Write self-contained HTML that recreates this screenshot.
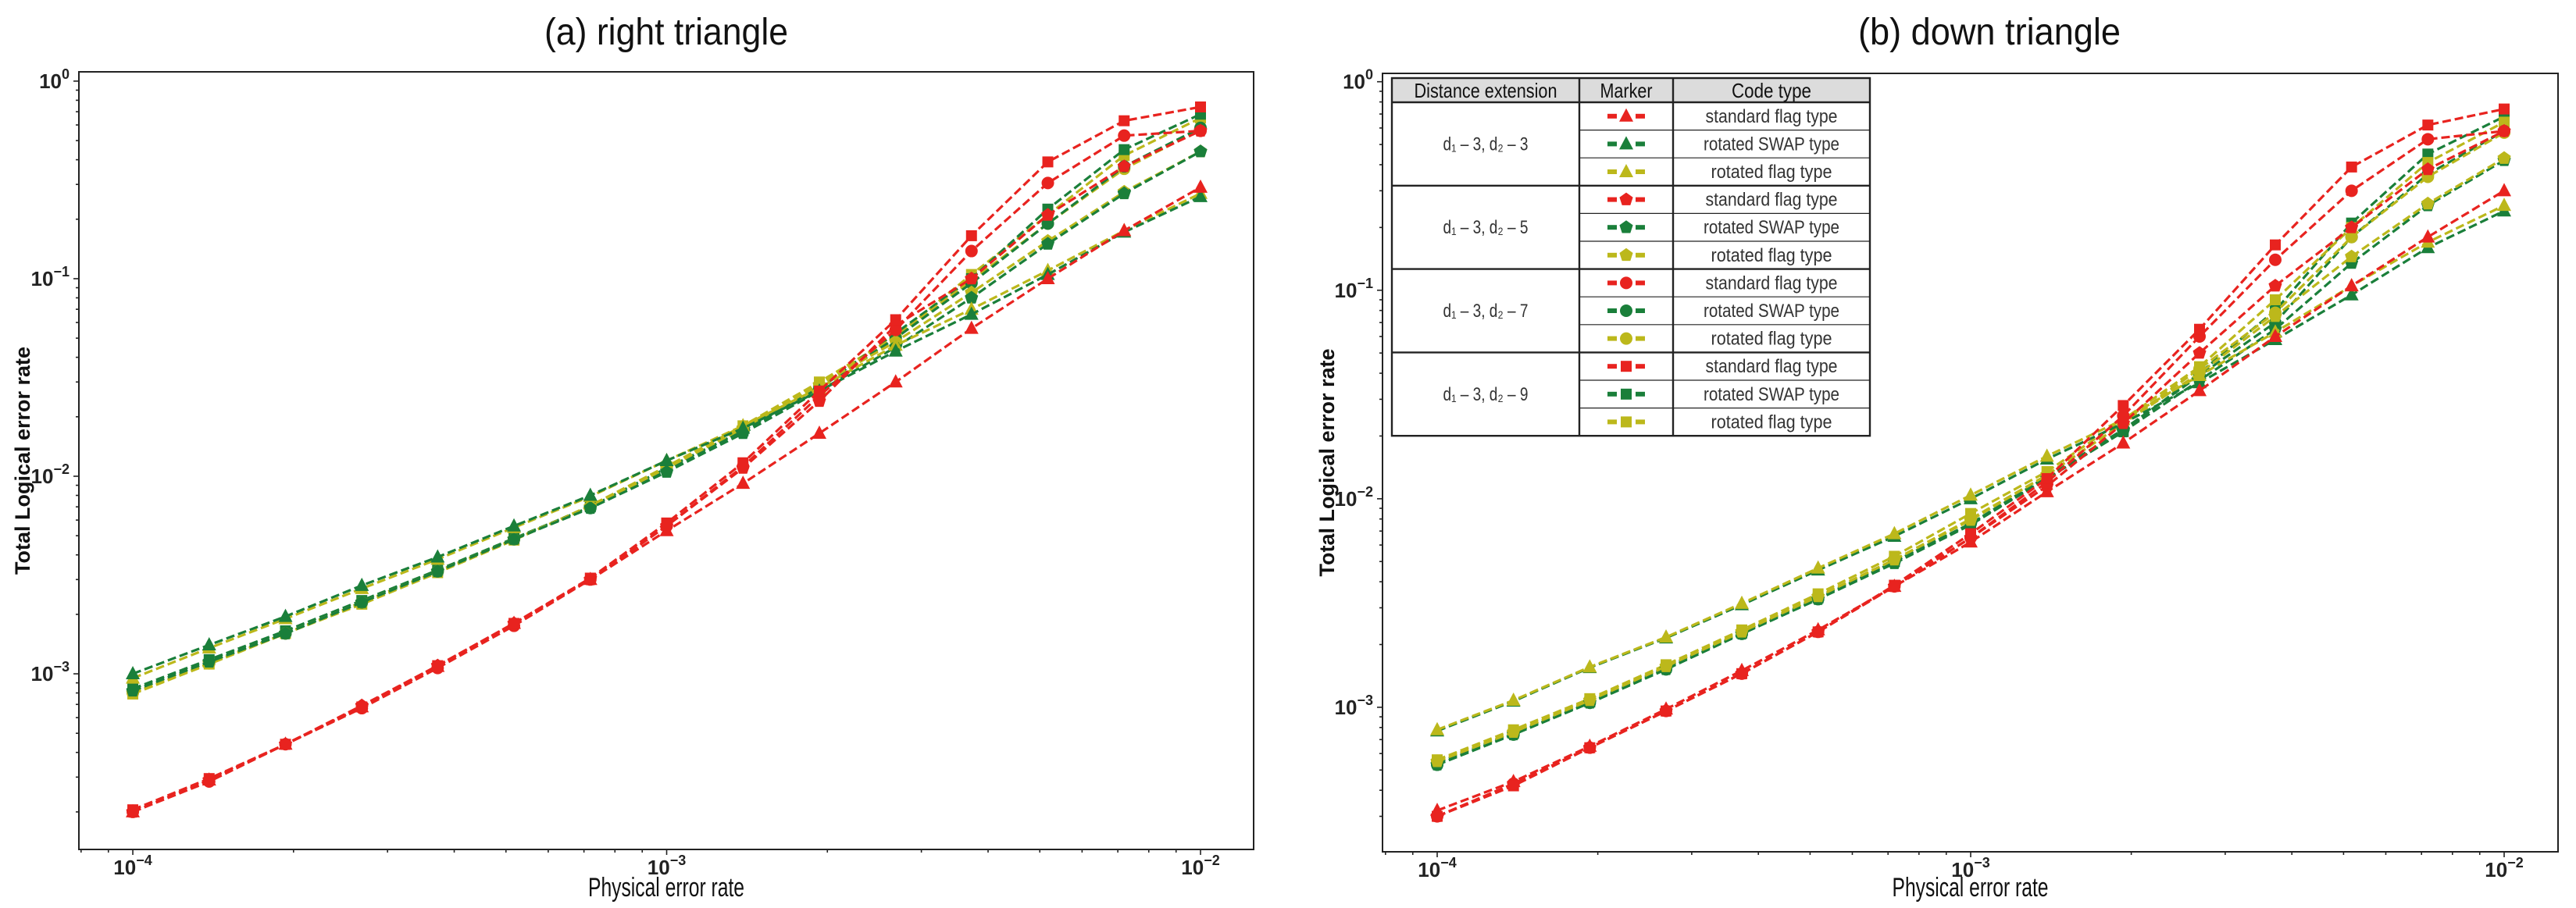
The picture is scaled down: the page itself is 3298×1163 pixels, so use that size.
<!DOCTYPE html>
<html><head><meta charset="utf-8"><style>
html,body{margin:0;padding:0;background:#fff;}
svg{display:block;}
text{font-family:"Liberation Sans Narrow","Liberation Sans",sans-serif;}
</style></head><body>
<svg id="fig" width="3298" height="1163" viewBox="0 0 3298 1163" xmlns="http://www.w3.org/2000/svg">
<g id="panelA"></g>
<g id="panelB"></g>
<g id="legend"></g>
</svg>
<script>
// ---- data ----
const pExponents = [-4,-3.857,-3.714,-3.571,-3.429,-3.286,-3.143,-3,-2.857,-2.714,-2.571,-2.429,-2.286,-2.143,-2];
const yTickExps = [0,-1,-2,-3];
const xTickExps = [-4,-3,-2];
const codeTypes = ["standard flag type","rotated SWAP type","rotated flag type"];
const distances = ["d3","d5","d7","d9"];
// panel (a) right triangle
const aStdD3 = [2.0e-4,2.9e-4,4.4e-4,6.8e-4,1.09e-3,1.8e-3,3.0e-3,5.3e-3,9.2e-3,1.65e-2,3.0e-2,5.6e-2,1.0e-1,1.75e-1,2.9e-1];
const aSwapD3 = [1.0e-3,1.4e-3,1.95e-3,2.8e-3,3.9e-3,5.6e-3,8.0e-3,1.2e-2,1.75e-2,2.7e-2,4.3e-2,6.6e-2,1.05e-1,1.72e-1,2.6e-1];
const aRotD3 = [9.5e-4,1.35e-3,1.9e-3,2.7e-3,3.8e-3,5.5e-3,7.9e-3,1.2e-2,1.8e-2,2.8e-2,4.6e-2,7.0e-2,1.1e-1,1.75e-1,2.7e-1];
const aStdD5 = [2.0e-4,2.9e-4,4.4e-4,6.9e-4,1.1e-3,1.8e-3,3.0e-3,5.6e-3,1.1e-2,2.4e-2,5.8e-2,1.0e-1,2.1e-1,3.7e-1,5.6e-1];
const aSwapD5 = [8.2e-4,1.15e-3,1.6e-3,2.3e-3,3.3e-3,4.8e-3,6.9e-3,1.05e-2,1.65e-2,2.7e-2,4.5e-2,8.0e-2,1.5e-1,2.7e-1,4.4e-1];
const aRotD5 = [8.0e-4,1.13e-3,1.6e-3,2.3e-3,3.3e-3,4.8e-3,7.0e-3,1.1e-2,1.75e-2,2.9e-2,4.8e-2,8.5e-2,1.55e-1,2.75e-1,4.4e-1];
const aStdD7 = [2.0e-4,2.85e-4,4.4e-4,6.7e-4,1.07e-3,1.75e-3,3.0e-3,5.6e-3,1.12e-2,2.55e-2,5.5e-2,1.38e-1,3.05e-1,5.3e-1,5.6e-1];
const aSwapD7 = [8.2e-4,1.15e-3,1.6e-3,2.3e-3,3.3e-3,4.8e-3,6.9e-3,1.08e-2,1.7e-2,2.8e-2,5.0e-2,9.5e-2,1.9e-1,3.7e-1,5.8e-1];
const aRotD7 = [8.0e-4,1.13e-3,1.6e-3,2.3e-3,3.3e-3,4.8e-3,7.0e-3,1.1e-2,1.75e-2,2.9e-2,5.1e-2,9.8e-2,1.9e-1,3.6e-1,5.7e-1];
const aStdD9 = [2.05e-4,2.95e-4,4.4e-4,6.8e-4,1.1e-3,1.8e-3,3.05e-3,5.8e-3,1.17e-2,2.7e-2,6.2e-2,1.65e-1,3.9e-1,6.3e-1,7.4e-1];
const aSwapD9 = [8.4e-4,1.18e-3,1.65e-3,2.35e-3,3.35e-3,4.85e-3,7.0e-3,1.1e-2,1.7e-2,2.8e-2,5.3e-2,1.0e-1,2.25e-1,4.5e-1,6.8e-1];
const aRotD9 = [7.9e-4,1.12e-3,1.6e-3,2.25e-3,3.25e-3,4.75e-3,7.1e-3,1.12e-2,1.8e-2,3.0e-2,5.1e-2,1.05e-1,2.1e-1,4.2e-1,6.5e-1];
// panel (b) down triangle
const bStdD3 = [3.2e-4,4.4e-4,6.5e-4,9.8e-4,1.5e-3,2.35e-3,3.8e-3,6.2e-3,1.08e-2,1.85e-2,3.3e-2,6.0e-2,1.05e-1,1.8e-1,3.0e-1];
const bSwapD3 = [7.7e-4,1.07e-3,1.55e-3,2.15e-3,3.1e-3,4.55e-3,6.6e-3,1.0e-2,1.55e-2,2.3e-2,3.6e-2,5.8e-2,9.5e-2,1.6e-1,2.4e-1];
const bRotD3 = [7.8e-4,1.08e-3,1.56e-3,2.17e-3,3.15e-3,4.65e-3,6.8e-3,1.04e-2,1.6e-2,2.4e-2,3.9e-2,6.3e-2,1.05e-1,1.7e-1,2.55e-1];
const bStdD5 = [3.0e-4,4.3e-4,6.4e-4,9.6e-4,1.45e-3,2.3e-3,3.8e-3,6.5e-3,1.15e-2,2.3e-2,5.0e-2,1.05e-1,2.0e-1,3.8e-1,5.8e-1];
const bSwapD5 = [5.3e-4,7.4e-4,1.05e-3,1.52e-3,2.25e-3,3.3e-3,4.9e-3,7.5e-3,1.25e-2,2.1e-2,3.7e-2,6.5e-2,1.35e-1,2.55e-1,4.2e-1];
const bRotD5 = [5.5e-4,7.6e-4,1.08e-3,1.57e-3,2.3e-3,3.4e-3,5.1e-3,7.9e-3,1.3e-2,2.3e-2,4.0e-2,7.5e-2,1.45e-1,2.6e-1,4.3e-1];
const bStdD7 = [3.0e-4,4.3e-4,6.4e-4,9.6e-4,1.45e-3,2.3e-3,3.8e-3,6.5e-3,1.2e-2,2.5e-2,6.0e-2,1.4e-1,3.0e-1,5.3e-1,5.8e-1];
const bSwapD7 = [5.3e-4,7.4e-4,1.05e-3,1.52e-3,2.25e-3,3.3e-3,5.0e-3,7.6e-3,1.28e-2,2.15e-2,3.9e-2,7.0e-2,1.8e-1,3.6e-1,5.8e-1];
const bRotD7 = [5.5e-4,7.6e-4,1.08e-3,1.57e-3,2.3e-3,3.4e-3,5.1e-3,8.0e-3,1.3e-2,2.3e-2,4.2e-2,7.8e-2,1.8e-1,3.5e-1,5.7e-1];
const bStdD9 = [3.0e-4,4.2e-4,6.4e-4,9.6e-4,1.45e-3,2.3e-3,3.85e-3,6.8e-3,1.25e-2,2.8e-2,6.5e-2,1.65e-1,3.9e-1,6.2e-1,7.4e-1];
const bSwapD9 = [5.4e-4,7.5e-4,1.06e-3,1.55e-3,2.27e-3,3.35e-3,5.0e-3,7.6e-3,1.25e-2,2.1e-2,4.0e-2,8.0e-2,2.1e-1,4.5e-1,6.8e-1];
const bRotD9 = [5.6e-4,7.8e-4,1.1e-3,1.6e-3,2.35e-3,3.5e-3,5.3e-3,8.5e-3,1.35e-2,2.4e-2,4.3e-2,9.0e-2,2.0e-1,4.1e-1,6.4e-1];

const NS = "http://www.w3.org/2000/svg";
const COLORS = {std:"#e8231f", swap:"#1a7f3a", rot:"#bcb81b"};
function mk(tag, attrs, parent){const e=document.createElementNS(NS,tag);for(const k in attrs)e.setAttribute(k,attrs[k]);if(parent)parent.appendChild(e);return e;}

function markerShape(g, shape, cx, cy, color){
  let e;
  if(shape==="tri"){
    e = mk("polygon",{points:`${cx},${cy-10} ${cx+9},${cy+7} ${cx-9},${cy+7}`,fill:color},g);
  } else if(shape==="pent"){
    let pts=[];for(let i=0;i<5;i++){const a=-Math.PI/2+i*2*Math.PI/5;pts.push((cx+9*Math.cos(a)).toFixed(1)+","+(cy+9*Math.sin(a)).toFixed(1));}
    e = mk("polygon",{points:pts.join(" "),fill:color},g);
  } else if(shape==="circ"){
    e = mk("circle",{cx:cx,cy:cy,r:8,fill:color},g);
  } else {
    e = mk("rect",{x:cx-7,y:cy-7,width:14,height:14,fill:color},g);
  }
  return e;
}

function drawPanel(root, cfg){
  const X = v => cfg.x0 + (Math.log10(v) - cfg.xmin)/(cfg.xmax-cfg.xmin)*(cfg.x1-cfg.x0);
  const Y = v => cfg.y1 - (Math.log10(v) - cfg.ymin)/(cfg.ymax-cfg.ymin)*(cfg.y1-cfg.y0);
  const XE = e => X(Math.pow(10,e));
  const YE = e => Y(Math.pow(10,e));
  const t = mk("text",{x:cfg.titleX,y:57,"font-size":48,"text-anchor":"middle",fill:"#111",textLength:cfg.titleW,lengthAdjust:"spacingAndGlyphs"},root);
  t.textContent = cfg.title;
  
  
  const fr = mk("rect",{x:cfg.x0,y:cfg.y0,width:cfg.x1-cfg.x0,height:cfg.y1-cfg.y0,fill:"none",stroke:"#222","stroke-width":2},root);
  
  
  const yt = mk("g",{},root);
  
  
  for(let d=-4; d<=0; d++){
    for(let m=1;m<10;m++){
      const v=m*Math.pow(10,d); const lv=Math.log10(v);
      if(lv<cfg.ymin||lv>cfg.ymax) continue;
      const yy=Y(v);
      mk("line",{x1:cfg.x0,x2:cfg.x0-(m===1?7:4),y1:yy,y2:yy,stroke:"#222","stroke-width":1.6},yt);
    }
  }
  yTickExps.forEach(e=>{
    const yy=YE(e);
    const lab=mk("text",{x:cfg.x0-12,y:yy+9,"font-size":26,"font-weight":"bold","text-anchor":"end",fill:"#222","font-family":"Liberation Sans, sans-serif"},yt);
    
    
    const s1=mk("tspan",{},lab); s1.textContent="10";
    const s2=mk("tspan",{"font-size":18,dy:-12}); lab.appendChild(s2); s2.textContent=(e===0?"0":"\u2212"+(-e));
  });
  const xt = mk("g",{},root);
  
  
  for(let d=-5; d<=-2; d++){
    for(let m=1;m<10;m++){
      const v=m*Math.pow(10,d); const lv=Math.log10(v);
      if(lv<cfg.xmin||lv>cfg.xmax) continue;
      const xx=X(v);
      mk("line",{x1:xx,x2:xx,y1:cfg.y1,y2:cfg.y1+(m===1?7:4),stroke:"#222","stroke-width":1.6},xt);
    }
  }
  xTickExps.forEach(e=>{
    const xx=XE(e);
    const lab=mk("text",{x:xx,y:cfg.y1+32,"font-size":26,"font-weight":"bold","text-anchor":"middle",fill:"#222","font-family":"Liberation Sans, sans-serif"},xt);
    
    
    const s1=mk("tspan",{},lab); s1.textContent="10";
    const s2=mk("tspan",{"font-size":18,dy:-12}); lab.appendChild(s2); s2.textContent="\u2212"+(-e);
  });
  const xl=mk("text",{x:(cfg.x0+cfg.x1)/2,y:1148,"font-size":34,"text-anchor":"middle",fill:"#111",textLength:200,lengthAdjust:"spacingAndGlyphs"},root);
  xl.textContent="Physical error rate";
  
  
  const yl=mk("text",{x:0,y:0,"font-size":27,"font-weight":"bold","text-anchor":"middle",fill:"#111","font-family":"Liberation Sans, sans-serif",transform:`translate(${cfg.ylabX},${(cfg.y0+cfg.y1)/2}) rotate(-90)`},root);
  yl.textContent="Total Logical error rate";
  
  
  const sg = mk("g",{},root);
  
  
  cfg.series.forEach(s=>{
    const g = mk("g",{},sg);
    
    
    const pts = s.values.map((v,i)=>XE(pExponents[i]).toFixed(1)+","+Y(v).toFixed(1)).join(" ");
    const pl = mk("polyline",{points:pts,fill:"none",stroke:COLORS[s.type],"stroke-width":3.2,"stroke-dasharray":"11 5"},g);
    
    
    s.values.forEach((v,i)=>{
      const m = markerShape(g, s.shape, XE(pExponents[i]), Y(v), COLORS[s.type]);
      
      
    });
  });
}

const seriesA = [
  {name:"rot-d9",type:"rot",shape:"sq",values:aRotD9},{name:"swap-d9",type:"swap",shape:"sq",values:aSwapD9},
  {name:"rot-d7",type:"rot",shape:"circ",values:aRotD7},{name:"swap-d7",type:"swap",shape:"circ",values:aSwapD7},
  {name:"rot-d5",type:"rot",shape:"pent",values:aRotD5},{name:"swap-d5",type:"swap",shape:"pent",values:aSwapD5},
  {name:"rot-d3",type:"rot",shape:"tri",values:aRotD3},{name:"swap-d3",type:"swap",shape:"tri",values:aSwapD3},
  {name:"std-d3",type:"std",shape:"tri",values:aStdD3},{name:"std-d5",type:"std",shape:"pent",values:aStdD5},
  {name:"std-d7",type:"std",shape:"circ",values:aStdD7},{name:"std-d9",type:"std",shape:"sq",values:aStdD9}
];
const seriesB = [
  {name:"swap-d9",type:"swap",shape:"sq",values:bSwapD9},{name:"rot-d9",type:"rot",shape:"sq",values:bRotD9},
  {name:"swap-d7",type:"swap",shape:"circ",values:bSwapD7},{name:"rot-d7",type:"rot",shape:"circ",values:bRotD7},
  {name:"swap-d5",type:"swap",shape:"pent",values:bSwapD5},{name:"rot-d5",type:"rot",shape:"pent",values:bRotD5},
  {name:"swap-d3",type:"swap",shape:"tri",values:bSwapD3},{name:"rot-d3",type:"rot",shape:"tri",values:bRotD3},
  {name:"std-d3",type:"std",shape:"tri",values:bStdD3},{name:"std-d5",type:"std",shape:"pent",values:bStdD5},
  {name:"std-d7",type:"std",shape:"circ",values:bStdD7},{name:"std-d9",type:"std",shape:"sq",values:bStdD9}
];

drawPanel(document.getElementById("panelA"),{title:"(a)  right triangle",titleX:853,titleW:312,x0:101,x1:1605,y0:92,y1:1088,
  xmin:-4.101,xmax:-1.9005,ymin:-3.889,ymax:0.047,ylabX:38,series:seriesA});
drawPanel(document.getElementById("panelB"),{title:"(b)  down triangle",titleX:2547,titleW:336,x0:1770,x1:3275,y0:94,y1:1091,
  xmin:-4.1025,xmax:-1.899,ymin:-3.693,ymax:0.04,ylabX:1708,series:seriesB});

(function(){
  const L = document.getElementById("legend");
  const lx0=1782, lx1=2394, c1=2022, c2=2142, ty=100, hy=131, rowH=35.6;
  mk("rect",{x:lx0,y:ty,width:lx1-lx0,height:hy-ty,fill:"#dcdcdc"},L);
  mk("rect",{x:lx0,y:ty,width:lx1-lx0,height:hy-ty+12*rowH,fill:"none",stroke:"#222","stroke-width":2.4},L);
  mk("line",{x1:lx0,x2:lx1,y1:hy,y2:hy,stroke:"#222","stroke-width":2.4},L);
  mk("line",{x1:c1,x2:c1,y1:ty,y2:hy+12*rowH,stroke:"#222","stroke-width":2.4},L);
  mk("line",{x1:c2,x2:c2,y1:ty,y2:hy+12*rowH,stroke:"#222","stroke-width":2.4},L);
  const heads=[["Distance extension",(lx0+c1)/2,183],["Marker",(c1+c2)/2,67],["Code type",(c2+lx1)/2,102]];
  heads.forEach(h=>{const t=mk("text",{x:h[1],y:ty+25,"font-size":26,"text-anchor":"middle",fill:"#111",textLength:h[2],lengthAdjust:"spacingAndGlyphs"},L);t.textContent=h[0];
    
    });
  const shapes=["tri","pent","circ","sq"], dNums=["3","5","7","9"], types=["std","swap","rot"], labels=["standard   flag type","rotated   SWAP type","rotated   flag type"], lw=[169,174,155];
  for(let gi=0;gi<4;gi++){
    const gy=hy+gi*3*rowH;
    if(gi>0) mk("line",{x1:lx0,x2:lx1,y1:gy,y2:gy,stroke:"#222","stroke-width":2.4},L);
    const dt=mk("text",{x:(lx0+c1)/2,y:gy+1.5*rowH+8,"font-size":24,"text-anchor":"middle",fill:"#333",textLength:109,lengthAdjust:"spacingAndGlyphs"},L);
    
    
    dt.textContent="d\u2081 \u2013 3, d\u2082 \u2013 "+dNums[gi];
    for(let r=0;r<3;r++){
      const ry=gy+r*rowH;
      if(r>0) mk("line",{x1:c1,x2:lx1,y1:ry,y2:ry,stroke:"#222","stroke-width":1.2},L);
      const cy=ry+rowH/2, cx=(c1+c2)/2, col=COLORS[types[r]];
      const e=mk("g",{},L);
      
      
      mk("rect",{x:cx-24,y:cy-3,width:12,height:6,fill:col},e);
      mk("rect",{x:cx+12,y:cy-3,width:12,height:6,fill:col},e);
      markerShape(e,shapes[gi],cx,cy,col);
      const tt=mk("text",{x:(c2+lx1)/2,y:cy+8,"font-size":24,"text-anchor":"middle",fill:"#333",textLength:lw[r],lengthAdjust:"spacingAndGlyphs"},e);
      tt.textContent=labels[r];
    }
  }
})();
</script>
</body></html>
